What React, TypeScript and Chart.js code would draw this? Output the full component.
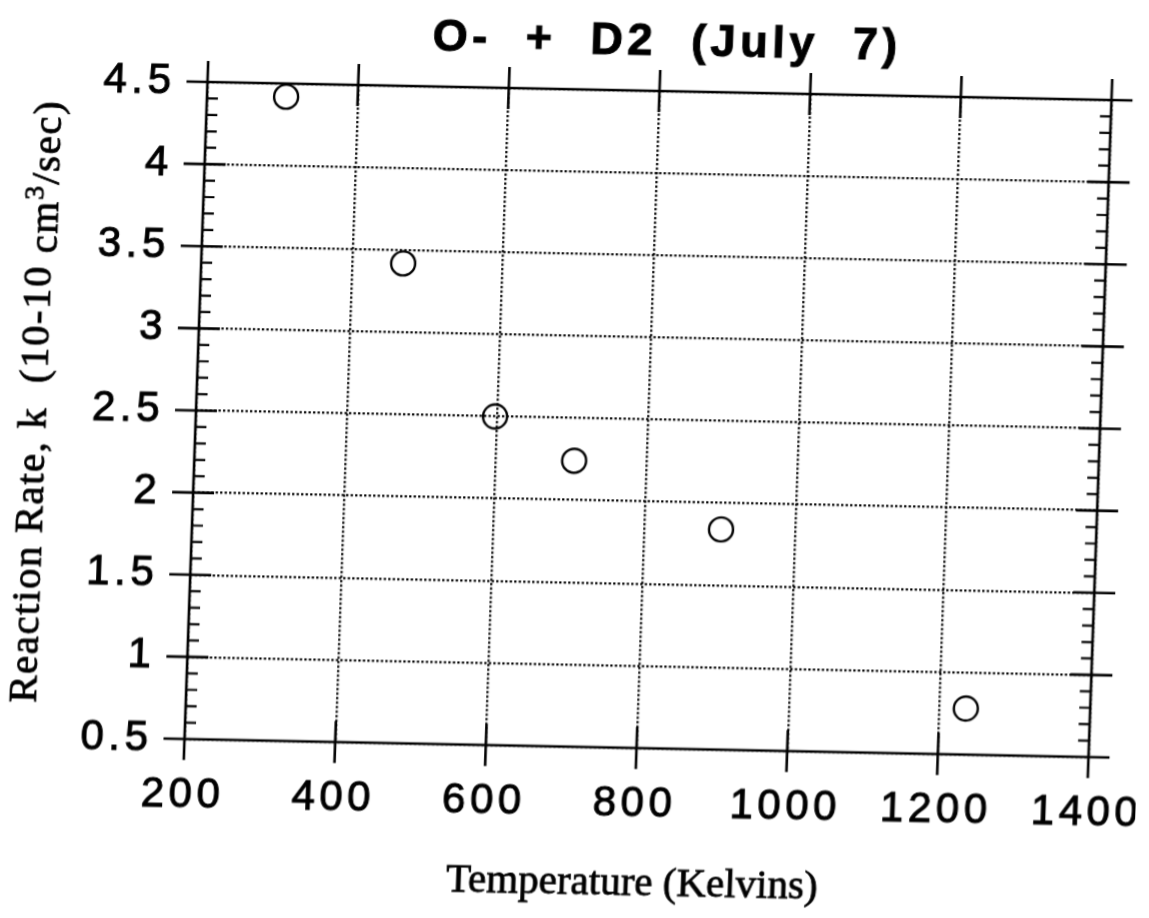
import React, { useEffect, useRef } from "react";
import { Chart, registerables } from "chart.js";

Chart.register(...registerables);

// ---- data ----
const temperatures = [305, 468, 597, 704, 902, 1235];
const reactionRates = [4.42, 3.42, 2.5, 2.24, 1.84, 0.78];
const xTickValues = [200, 400, 600, 800, 1000, 1200, 1400];
const yTickValues = [0.5, 1, 1.5, 2, 2.5, 3, 3.5, 4, 4.5];
const yMinorStep = 0.1;
const chartTitle = "O-  +  D2  (July  7)";
const xAxisTitle = "Temperature (Kelvins)";
const yTitleMain = "Reaction Rate, k  (10-10 ";
const yTitleUnit = "cm";
const yTitleExp = "3";
const yTitleTail = "/sec)";

const SANS = "'Liberation Sans', Arial, Helvetica, sans-serif";
const SERIF = "'Liberation Serif', 'Times New Roman', serif";

function inkText(ctx: CanvasRenderingContext2D, text: string, x: number, y: number, stroke: number) {
  ctx.fillText(text, x, y);
  if (stroke > 0) {
    ctx.lineWidth = stroke;
    ctx.strokeText(text, x, y);
  }
}

const framePlugin = {
  id: "framePlugin",
  beforeDraw(chart: any) {
    chart.ctx.letterSpacing = "4.5px";
  },
  afterDraw(chart: any) {
    const ctx = chart.ctx as CanvasRenderingContext2D;
    const { left, right, top, bottom } = chart.chartArea;
    const xs = chart.scales.x;
    const ys = chart.scales.y;
    ctx.save();
    (ctx as any).letterSpacing = "0px";
    ctx.strokeStyle = "#000";
    ctx.fillStyle = "#000";
    ctx.lineWidth = 2.6;
    ctx.beginPath();
    ctx.rect(left, top, right - left, bottom - top);
    const M = 21;
    const m = 11;
    xTickValues.forEach((v) => {
      const px = xs.getPixelForValue(v);
      ctx.moveTo(px, bottom - M);
      ctx.lineTo(px, bottom + M);
      ctx.moveTo(px, top - M);
      ctx.lineTo(px, top + M);
    });
    yTickValues.forEach((v) => {
      const py = ys.getPixelForValue(v);
      ctx.moveTo(left - M, py);
      ctx.lineTo(left + M, py);
      ctx.moveTo(right - M, py);
      ctx.lineTo(right + M, py);
    });
    ctx.stroke();
    ctx.lineWidth = 2.2;
    ctx.beginPath();
    const kMin = Math.round(ys.min / yMinorStep);
    const kMax = Math.round(ys.max / yMinorStep);
    for (let k = kMin; k <= kMax; k++) {
      if (k % 5 === 0) continue;
      const py = ys.getPixelForValue(k * yMinorStep);
      ctx.moveTo(left, py);
      ctx.lineTo(left + m, py);
      ctx.moveTo(right - m, py);
      ctx.lineTo(right, py);
    }
    ctx.stroke();

    // chart title
    ctx.font = `bold 45px ${SANS}`;
    (ctx as any).letterSpacing = "4.5px";
    ctx.textAlign = "center";
    ctx.textBaseline = "alphabetic";
    inkText(ctx, chartTitle, (left + right) / 2 + 6, 55, 1);

    // x axis title
    ctx.font = `41px ${SERIF}`;
    (ctx as any).letterSpacing = "0px";
    inkText(ctx, xAxisTitle, (left + right) / 2, 895, 0.8);

    // y axis title (rotated, with sub/superscript pieces)
    (ctx as any).letterSpacing = "1.5px";
    ctx.textAlign = "left";
    const parts = [
      { text: yTitleMain, font: `41px ${SERIF}`, shift: 0 },
      { text: yTitleUnit, font: `41px ${SERIF}`, shift: 5 },
      { text: yTitleExp, font: `28px ${SERIF}`, shift: -10 },
      { text: yTitleTail, font: `41px ${SERIF}`, shift: 5 },
    ];
    let total = 0;
    const widths = parts.map((p) => {
      ctx.font = p.font;
      const w = ctx.measureText(p.text).width;
      total += w;
      return w;
    });
    ctx.translate(46, (top + bottom) / 2 - 6 + total / 2);
    ctx.rotate(-Math.PI / 2);
    let pos = 0;
    parts.forEach((p, i) => {
      ctx.font = p.font;
      inkText(ctx, p.text, pos, p.shift, 0.8);
      pos += widths[i];
    });
    ctx.restore();
    (ctx as any).letterSpacing = "0px";
  },
};

export default function App() {
  const canvasRef = useRef<HTMLCanvasElement | null>(null);

  useEffect(() => {
    const canvas = canvasRef.current;
    if (!canvas) return;
    const gridOpts = {
      color: "#000",
      lineWidth: 2.3,
      drawTicks: false,
    };
    const tickFont = { family: SANS, size: 42 };
    const chart = new Chart(canvas, {
      type: "scatter",
      data: {
        datasets: [
          {
            label: "k",
            data: temperatures.map((t, i) => ({ x: t, y: reactionRates[i] })),
            pointStyle: "circle",
            pointRadius: 12,
            pointHoverRadius: 12,
            borderWidth: 2.4,
            borderColor: "#000",
            backgroundColor: "rgba(0,0,0,0)",
            showLine: false,
          },
        ],
      },
      options: {
        responsive: false,
        animation: false,
        devicePixelRatio: 1,
        layout: { padding: { top: 91, right: 49, bottom: 0, left: 0 } },
        plugins: {
          legend: { display: false },
          tooltip: { enabled: false },
          title: { display: false },
        },
        scales: {
          x: {
            type: "linear",
            position: "bottom",
            min: 200,
            max: 1400,
            afterBuildTicks: (scale: any) => {
              scale.ticks = xTickValues.map((v) => ({ value: v }));
            },
            afterFit: (scale: any) => {
              scale.height = 170;
              scale.paddingLeft = 0;
              scale.paddingRight = 0;
            },
            ticks: {
              autoSkip: false,
              maxRotation: 0,
              minRotation: 0,
              padding: 31,
              color: "#000",
              textStrokeColor: "#000",
              textStrokeWidth: 1,
              font: tickFont,
              callback: (v: any) => String(v),
            },
            grid: gridOpts,
            border: { display: false, dash: [2.3, 2.2] },
          },
          y: {
            type: "linear",
            min: 0.5,
            max: 4.5,
            afterBuildTicks: (scale: any) => {
              scale.ticks = yTickValues.map((v) => ({ value: v }));
            },
            afterFit: (scale: any) => {
              scale.width = 196;
              scale.paddingTop = 0;
              scale.paddingBottom = 0;
            },
            ticks: {
              autoSkip: false,
              padding: 32,
              color: "#000",
              textStrokeColor: "#000",
              textStrokeWidth: 1,
              font: tickFont,
              callback: (v: any) => String(v),
            },
            grid: gridOpts,
            border: { display: false, dash: [2.3, 2.2] },
          },
        },
      },
      plugins: [framePlugin],
    });
    return () => chart.destroy();
  }, []);

  return (
    <div
      style={{
        position: "absolute",
        left: 0,
        top: 0,
        width: 1149,
        height: 918,
        overflow: "hidden",
        background: "#fff",
      }}
    >
      <canvas
        ref={canvasRef}
        width={1149}
        height={918}
        style={{
          display: "block",
          width: 1149,
          height: 918,
          transformOrigin: "648px 419px",
          transform: "matrix(1, 0.02, -0.035, 1, 0, 0)",
        }}
      />
    </div>
  );
}
